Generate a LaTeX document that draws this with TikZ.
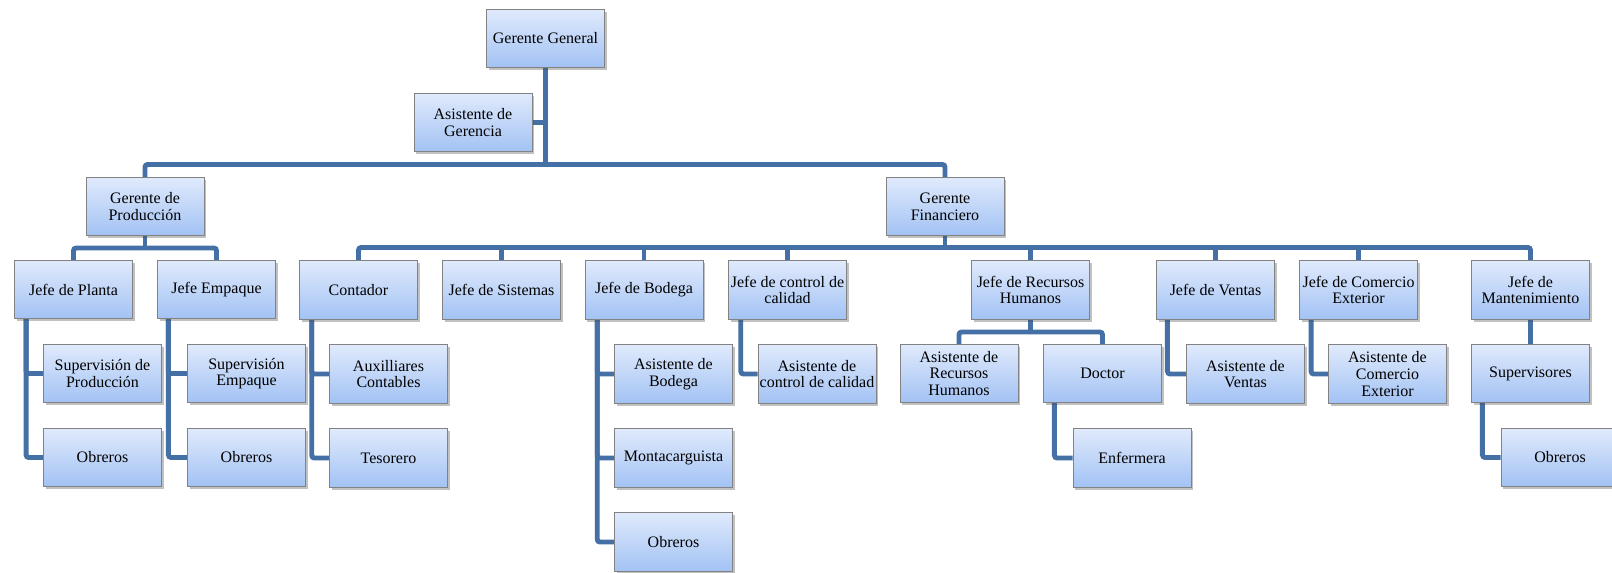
\documentclass[tikz,border=0pt]{standalone}
\usepackage{fontspec}
\setmainfont{Liberation Serif}
\usetikzlibrary{shadows,backgrounds}
\definecolor{bxtop}{RGB}{224,234,252}
\definecolor{bxbot}{RGB}{162,194,244}
\definecolor{bxline}{RGB}{130,130,130}
\definecolor{lnblue}{RGB}{68,112,166}
\tikzset{
  box/.style={draw=bxline, line width=0.6pt, top color=bxtop, bottom color=bxbot,
    minimum width=88.5pt, minimum height=44pt, inner sep=1pt, align=center,
    font=\fontsize{12}{12.5}\selectfont,
    drop shadow={shadow xshift=1.6pt, shadow yshift=-1.8pt, opacity=0.35, fill=black!70}},
  conn/.style={draw=lnblue, line width=3.7pt, rounded corners=2pt},
}
\begin{document}
\begin{tikzpicture}[x=0.75pt,y=-0.75pt]
\useasboundingbox (0,0) rectangle (1612,572);
\clip (0,0) rectangle (1612,572);
% level 0
\node[box] (GG) at (545.5,38.5) {Gerente General};
\node[box] (AG) at (473,122.5) {Asistente de\\Gerencia};
% level 1
\node[box] (GP) at (145,206.5) {Gerente de\\Producción};
\node[box] (GF) at (945,206.5) {Gerente\\Financiero};
% production
\node[box] (JP) at (73.5,289.5) {Jefe de Planta};
\node[box] (JE) at (216.5,289.5) {Jefe Empaque};
\node[box] (SP) at (102.5,373.5) {Supervisión de\\Producción};
\node[box] (OP) at (102.5,457.5) {Obreros};
\node[box] (SE) at (246.5,373.5) {Supervisión\\Empaque};
\node[box] (OE) at (246.5,457.5) {Obreros};
% finance
\node[box] (CO) at (358.5,290) {Contador};
\node[box] (AC) at (388.5,374) {Auxilliares\\Contables};
\node[box] (TE) at (388.5,458) {Tesorero};
\node[box] (JS) at (501.5,290) {Jefe de Sistemas};
\node[box] (JB) at (644,290) {Jefe de Bodega};
\node[box] (AB) at (673.5,374) {Asistente de\\Bodega};
\node[box] (MO) at (673.5,458) {Montacarguista};
\node[box] (OB) at (673.5,542) {Obreros};
\node[box] (JC) at (787.5,290) {Jefe de control de\\calidad};
\node[box] (ACC) at (817,374) {Asistente de\\control de calidad};
\node[box] (JR) at (1030.5,290) {Jefe de Recursos\\Humanos};
\node[box] (AR) at (959,373.5) {Asistente de\\Recursos\\Humanos};
\node[box] (DO) at (1102.5,373.5) {Doctor};
\node[box] (EN) at (1132,458) {Enfermera};
\node[box] (JV) at (1215.5,290) {Jefe de Ventas};
\node[box] (AV) at (1245.5,374) {Asistente de\\Ventas};
\node[box] (JX) at (1358.5,290) {Jefe de Comercio\\Exterior};
\node[box] (AX) at (1387.5,374) {Asistente de\\Comercio\\Exterior};
\node[box] (JM) at (1530.5,290) {Jefe de\\Mantenimiento};
\node[box] (SU) at (1530.5,373.5) {Supervisores};
\node[box] (OM) at (1560,457.5) {Obreros};
% buses
\coordinate (busA) at (545,164.5);
\coordinate (busP) at (144,248);
\coordinate (busF) at (945,247.5);
\coordinate (busR) at (1030.5,332);
\begin{scope}[on background layer]
\draw[conn] (GG.south) -- (GG.south |- busA);
\draw[conn] (GG.south |- AG.east) -- (AG.east);
\draw[conn] (GP.north) |- (busA) -| (GF.north);
\draw[conn] (GP.south) -- (GP.south |- busP);
\draw[conn] (JP.north) |- (busP) -| (JE.north);
\draw[conn] (GF.south) -- (GF.south |- busF);
\draw[conn] (CO.north) |- (busF) -| (JM.north);
\foreach \n in {JS,JB,JC,JR,JV,JX}{\draw[conn] (\n.north) -- (\n.north |- busF);}
\draw[conn] (JR.south) -- (JR.south |- busR);
\draw[conn] (AR.north) |- (busR) -| (DO.north);
\draw[conn] (JM.south) -- (SU.north);
% elbows
\draw[conn] ([xshift=9pt]JP.south west) |- (SP.west);
\draw[conn] ([xshift=9pt]JP.south west) |- (OP.west);
\draw[conn] ([xshift=8.5pt]JE.south west) |- (SE.west);
\draw[conn] ([xshift=8.5pt]JE.south west) |- (OE.west);
\draw[conn] ([xshift=9.5pt]CO.south west) |- (AC.west);
\draw[conn] ([xshift=9.5pt]CO.south west) |- (TE.west);
\draw[conn] ([xshift=9.5pt]JB.south west) |- (AB.west);
\draw[conn] ([xshift=9.5pt]JB.south west) |- (MO.west);
\draw[conn] ([xshift=9.5pt]JB.south west) |- (OB.west);
\draw[conn] ([xshift=9.5pt]JC.south west) |- (ACC.west);
\draw[conn] ([xshift=8.5pt]DO.south west) |- (EN.west);
\draw[conn] ([xshift=8.5pt]JV.south west) |- (AV.west);
\draw[conn] ([xshift=9pt]JX.south west) |- (AX.west);
\draw[conn] ([xshift=8.5pt]SU.south west) |- (OM.west);
\end{scope}
\end{tikzpicture}
\end{document}
